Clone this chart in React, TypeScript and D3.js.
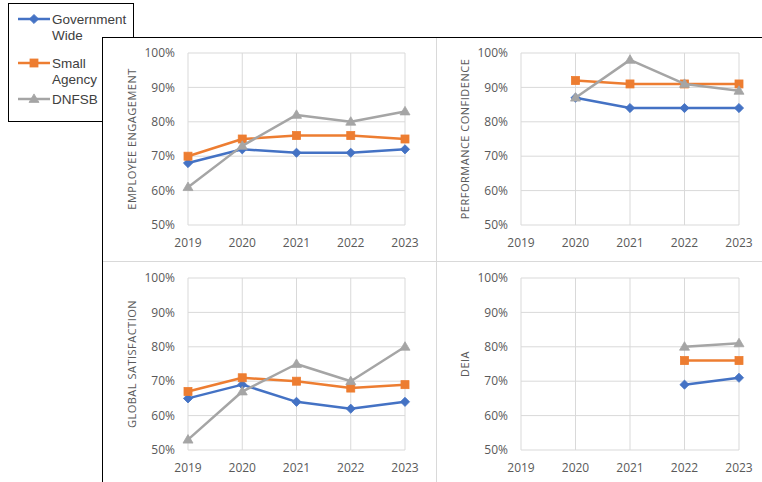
import React from "react";
import * as d3 from "d3";

const years = ["2019", "2020", "2021", "2022", "2023"];
const yTicks = [0.5, 0.6, 0.7, 0.8, 0.9, 1.0];
const seriesNames = ["Government Wide", "Small Agency", "DNFSB"];
const seriesColors = ["#4472C4", "#ED7D31", "#A5A5A5"];

const engagementGov = [68, 72, 71, 71, 72];
const engagementSmall = [70, 75, 76, 76, 75];
const engagementDnfsb = [61, 73, 82, 80, 83];

const performanceGov = [null, 87, 84, 84, 84];
const performanceSmall = [null, 92, 91, 91, 91];
const performanceDnfsb = [null, 87, 98, 91, 89];

const satisfactionGov = [65, 69, 64, 62, 64];
const satisfactionSmall = [67, 71, 70, 68, 69];
const satisfactionDnfsb = [53, 67, 75, 70, 80];

const deiaGov = [null, null, null, 69, 71];
const deiaSmall = [null, null, null, 76, 76];
const deiaDnfsb = [null, null, null, 80, 81];

const panelTitles = ["EMPLOYEE ENGAGEMENT", "PERFORMANCE CONFIDENCE", "GLOBAL SATISFACTION", "DEIA"];
const panelData = [
  [engagementGov, engagementSmall, engagementDnfsb],
  [performanceGov, performanceSmall, performanceDnfsb],
  [satisfactionGov, satisfactionSmall, satisfactionDnfsb],
  [deiaGov, deiaSmall, deiaDnfsb],
];

const FONT = "'Open Sans', 'Liberation Sans', sans-serif";
const LEGEND_FONT = "'Liberation Sans', Arial, sans-serif";
const colX = [[188, 405], [521, 739]];
const rowY = [[53, 225], [278, 450]];

function Marker({ kind, x, y, color }: { kind: number; x: number; y: number; color: string }) {
  if (kind === 0) {
    const r = 4.6;
    return <path d={`M${x},${y - r}L${x + r},${y}L${x},${y + r}L${x - r},${y}Z`} fill={color} stroke={color} strokeWidth={0.8} />;
  }
  if (kind === 1) {
    const s = 4;
    return <rect x={x - s} y={y - s} width={2 * s} height={2 * s} fill={color} stroke={color} strokeWidth={0.8} />;
  }
  const w = 5, h = 8.5;
  return <path d={`M${x},${y - h * 0.6}L${x + w},${y + h * 0.4}L${x - w},${y + h * 0.4}Z`} fill={color} stroke={color} strokeWidth={0.8} />;
}

function Panel({ idx }: { idx: number }) {
  const col = idx % 2;
  const row = Math.floor(idx / 2);
  const [x0, x1] = colX[col];
  const [yTop, yBot] = rowY[row];
  const x = d3.scalePoint<string>().domain(years).range([x0, x1]);
  const y = d3.scaleLinear().domain([0.5, 1]).range([yBot, yTop]);
  const line = d3
    .line<number | null>()
    .defined((d) => d != null)
    .x((_, i) => x(years[i]) as number)
    .y((d) => y((d as number) / 100));
  const data = panelData[idx];
  return (
    <g>
      {yTicks.map((t) => (
        <line key={"h" + t} x1={x0} x2={x1} y1={y(t)} y2={y(t)} stroke="#d9d9d9" strokeWidth={1} />
      ))}
      {years.map((yr) => (
        <line key={"v" + yr} x1={x(yr)} x2={x(yr)} y1={yTop} y2={yBot} stroke="#d9d9d9" strokeWidth={1} />
      ))}
      {yTicks.map((t) => (
        <text key={"yl" + t} x={x0 - 13} y={y(t)} dy="0.35em" textAnchor="end" fontSize={12} fill="#595959" fontFamily={FONT}>
          {d3.format(".0%")(t)}
        </text>
      ))}
      {years.map((yr) => (
        <text key={"xl" + yr} x={x(yr)} y={yBot + 18} dy="0.35em" textAnchor="middle" fontSize={12} fill="#595959" fontFamily={FONT}>
          {yr}
        </text>
      ))}
      <text
        transform={`translate(${x0 - 56},${(yTop + yBot) / 2}) rotate(-90)`}
        dy="0.35em"
        textAnchor="middle"
        fontSize={11}
        letterSpacing={0.5}
        fill="#595959"
        fontFamily={FONT}
      >
        {panelTitles[idx]}
      </text>
      {data.map((s, si) => (
        <g key={"s" + si}>
          <path d={line(s) || ""} fill="none" stroke={seriesColors[si]} strokeWidth={2.5} strokeLinejoin="round" />
          {s.map((v, i) =>
            v == null ? null : (
              <Marker key={i} kind={si} x={x(years[i]) as number} y={y(v / 100)} color={seriesColors[si]} />
            )
          )}
        </g>
      ))}
    </g>
  );
}

export default function App() {
  const legendRows = [
    { lines: ["Government", "Wide"], y: 19 },
    { lines: ["Small", "Agency"], y: 63 },
    { lines: ["DNFSB"], y: 99 },
  ];
  return (
    <svg width={762} height={482} style={{ position: "absolute", left: 0, top: 0 }}>
      <title>{seriesNames.join(", ")}</title>
      <rect x={0} y={0} width={762} height={482} fill="#ffffff" />
      {/* legend box (behind main box) */}
      <rect x={8.5} y={3.5} width={125} height={118} fill="#ffffff" stroke="#000000" strokeWidth={1} />
      {legendRows.map((r, i) => (
        <g key={i}>
          <line x1={18} x2={50} y1={r.y} y2={r.y} stroke={seriesColors[i]} strokeWidth={2.5} />
          <Marker kind={i} x={34} y={r.y} color={seriesColors[i]} />
          {r.lines.map((t, j) => (
            <text key={j} x={52} y={r.y + j * 16} dy="0.35em" fontSize={13.5} fill="#404040" fontFamily={LEGEND_FONT}>
              {t}
            </text>
          ))}
        </g>
      ))}
      {/* main box */}
      <rect x={102.5} y={37.5} width={700} height={500} fill="#ffffff" stroke="#000000" strokeWidth={1} />
      <line x1={436.5} x2={436.5} y1={38} y2={482} stroke="#d9d9d9" strokeWidth={1} />
      <line x1={103} x2={762} y1={261.5} y2={261.5} stroke="#d9d9d9" strokeWidth={1} />
      {[0, 1, 2, 3].map((i) => (
        <Panel key={i} idx={i} />
      ))}
    </svg>
  );
}
